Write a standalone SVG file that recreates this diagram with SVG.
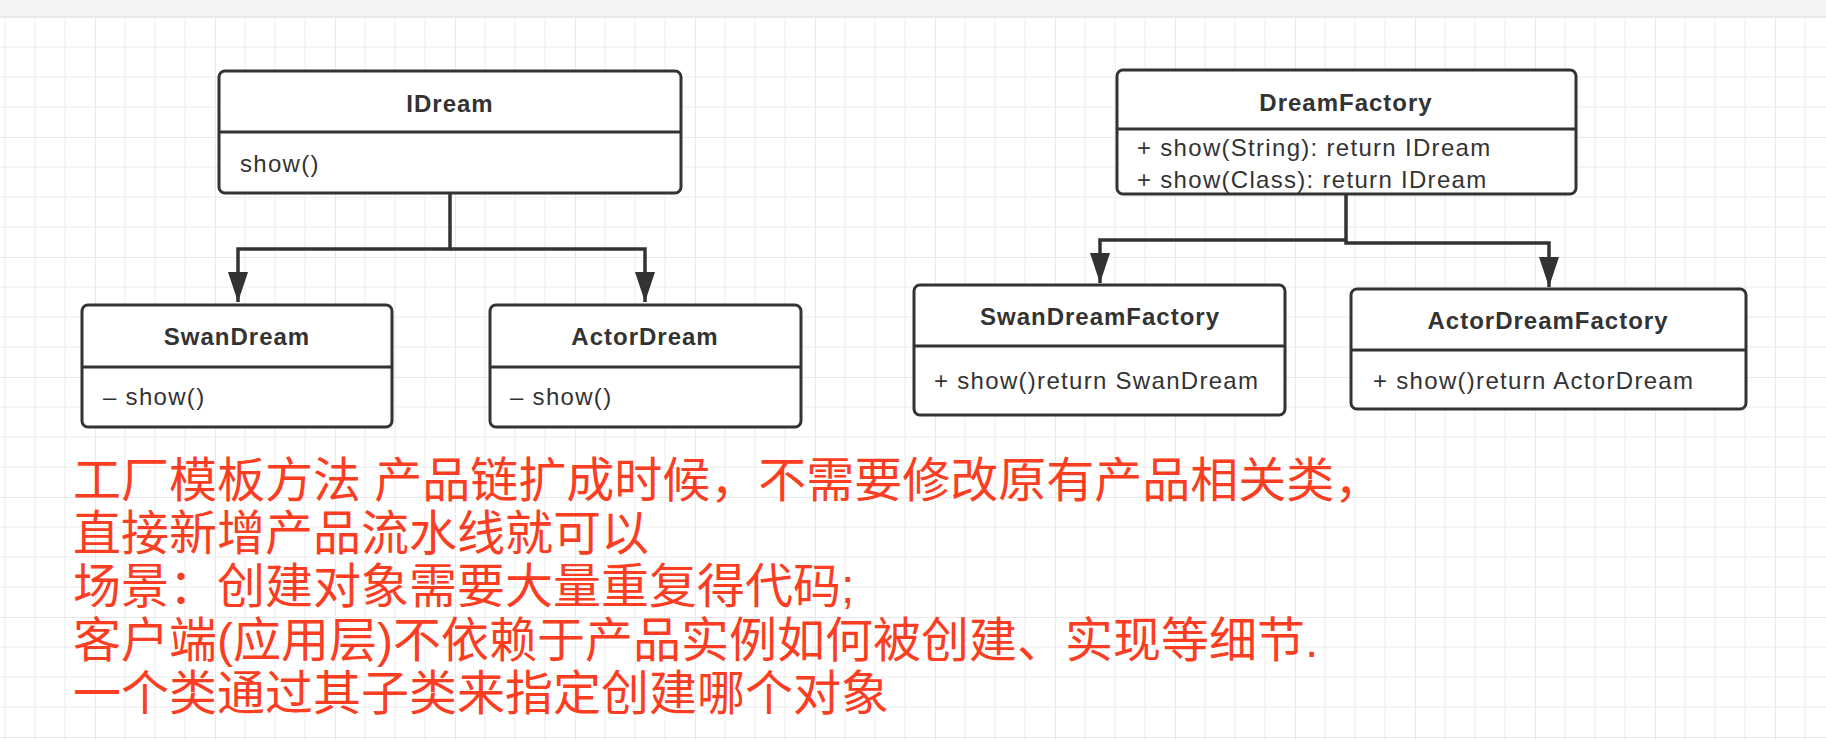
<svg xmlns="http://www.w3.org/2000/svg" width="1826" height="740" viewBox="0 0 1826 740">
  <style>
    .box { fill: #ffffff; stroke: #333333; stroke-width: 3; }
    .div { stroke: #333333; stroke-width: 3; }
    .title { font-family: "Liberation Sans", Arial, sans-serif; font-size: 24px; font-weight: bold; fill: #333333; text-anchor: middle; letter-spacing: 1px; }
    .body { font-family: "Liberation Sans", Arial, sans-serif; font-size: 24px; fill: #333333; letter-spacing: 1.3px; }
    .conn { fill: none; stroke: #333333; stroke-width: 3.5; }
    .note { font-family: "Liberation Sans", "Noto Sans CJK SC", sans-serif; font-size: 48px; fill: #fb3d22; }
  </style>
  <defs>
    <pattern id="grid" patternUnits="userSpaceOnUse" x="95" y="17" width="120" height="120">
      <path d="M30 0V120M60 0V120M90 0V120M0 30H120M0 60H120M0 90H120" stroke="#f2f2f2" stroke-width="1.5" fill="none"/>
      <path d="M0 0V120M0 0H120" stroke="#e9e9e9" stroke-width="2" fill="none"/>
    </pattern>
    <marker id="arrow" markerUnits="userSpaceOnUse" markerWidth="30" markerHeight="20" refX="30" refY="10" orient="auto">
      <path d="M0 0L30 10L0 20Z" fill="#333333"/>
    </marker>
  </defs>

  <rect x="0" y="0" width="1826" height="740" fill="#ffffff"/>
  <rect x="0" y="17" width="1826" height="723" fill="url(#grid)"/>
  <rect x="0" y="0" width="1826" height="16" fill="#f3f3f3"/>
  <line x1="0" y1="16.5" x2="1826" y2="16.5" stroke="#e8e8e8" stroke-width="1"/>

  <g id="connectors">
    <path class="conn" d="M450 193V249H238V302" marker-end="url(#arrow)"/>
    <path class="conn" d="M450 249H645V302" marker-end="url(#arrow)"/>
    <path class="conn" d="M1346 194V240H1100V283" marker-end="url(#arrow)"/>
    <path class="conn" d="M1346 240V243H1549V287" marker-end="url(#arrow)"/>
  </g>

  <g id="IDream">
    <rect class="box" x="219" y="71" width="462" height="122" rx="6"/>
    <line class="div" x1="219" y1="132" x2="681" y2="132"/>
    <text class="title" x="450" y="112">IDream</text>
    <text class="body" x="240" y="172">show()</text>
  </g>

  <g id="SwanDream">
    <rect class="box" x="82" y="305" width="310" height="122" rx="6"/>
    <line class="div" x1="82" y1="367" x2="392" y2="367"/>
    <text class="title" x="237" y="345">SwanDream</text>
    <text class="body" x="103" y="405">– show()</text>
  </g>

  <g id="ActorDream">
    <rect class="box" x="490" y="305" width="311" height="122" rx="6"/>
    <line class="div" x1="490" y1="367" x2="801" y2="367"/>
    <text class="title" x="645" y="345">ActorDream</text>
    <text class="body" x="510" y="405">– show()</text>
  </g>

  <g id="DreamFactory">
    <rect class="box" x="1117" y="70" width="459" height="124" rx="6"/>
    <line class="div" x1="1117" y1="129" x2="1576" y2="129"/>
    <text class="title" x="1346" y="111">DreamFactory</text>
    <text class="body" x="1137" y="156">+ show(String): return IDream</text>
    <text class="body" x="1137" y="188">+ show(Class): return IDream</text>
  </g>

  <g id="SwanDreamFactory">
    <rect class="box" x="914" y="285" width="371" height="130" rx="6"/>
    <line class="div" x1="914" y1="346" x2="1285" y2="346"/>
    <text class="title" x="1100" y="325">SwanDreamFactory</text>
    <text class="body" x="934" y="389">+ show()return SwanDream</text>
  </g>

  <g id="ActorDreamFactory">
    <rect class="box" x="1351" y="289" width="395" height="120" rx="6"/>
    <line class="div" x1="1351" y1="350" x2="1746" y2="350"/>
    <text class="title" x="1548" y="329">ActorDreamFactory</text>
    <text class="body" x="1373" y="389">+ show()return ActorDream</text>
  </g>

  <g id="note">
    <text class="note" x="73" y="497">工厂模板方法 产品链扩成时候，不需要修改原有产品相关类，</text>
    <text class="note" x="73" y="550">直接新增产品流水线就可以</text>
    <text class="note" x="73" y="603">场景：创建对象需要大量重复得代码;</text>
    <text class="note" x="73" y="657">客户端(应用层)不依赖于产品实例如何被创建、实现等细节.</text>
    <text class="note" x="73" y="710">一个类通过其子类来指定创建哪个对象</text>
  </g>
</svg>
